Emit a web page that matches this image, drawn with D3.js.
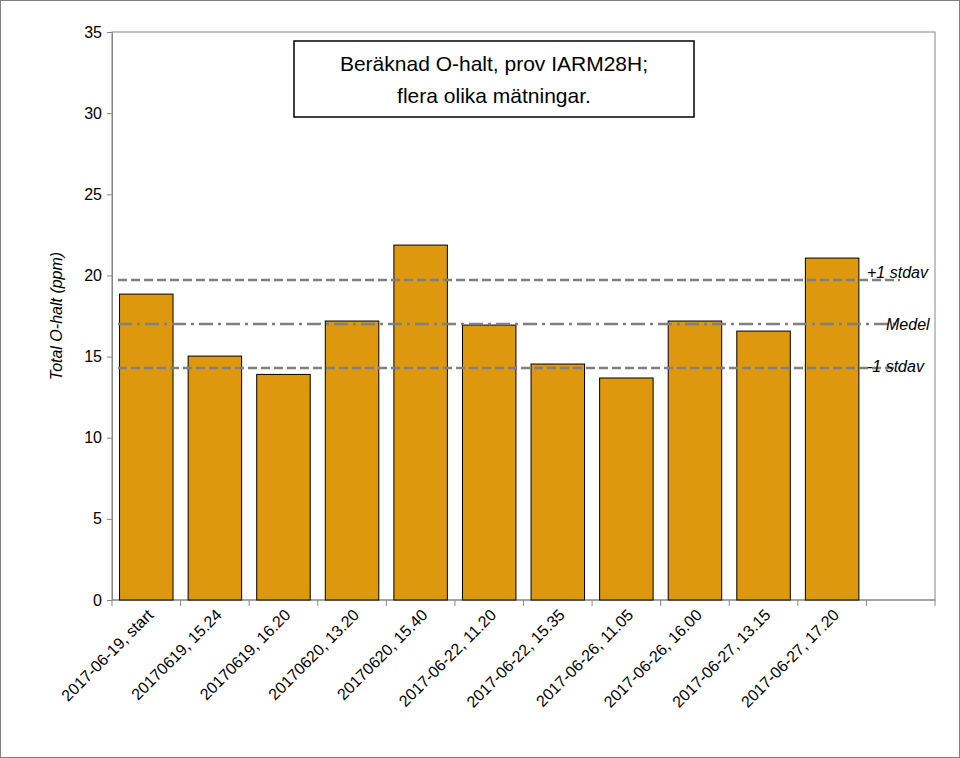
<!DOCTYPE html>
<html><head><meta charset="utf-8">
<script src="https://cdn.jsdelivr.net/npm/d3@7"></script>
<style>body{margin:0;background:#fff}text{font-family:Arial,"Liberation Sans",sans-serif}</style>
</head><body><svg id="chart" width="960" height="758"></svg>
<script>
// categories and measured values (ppm)
const categories = ['2017-06-19, start','20170619, 15.24','20170619, 16.20','20170620, 13.20','20170620, 15.40',
  '2017-06-22, 11.20','2017-06-22, 15.35','2017-06-26, 11.05','2017-06-26, 16.00','2017-06-27, 13.15','2017-06-27, 17.20',''];
const values = [18.85, 15.03, 13.9, 17.19, 21.87, 16.94, 14.54, 13.68, 17.19, 16.57, 21.07];
const refLabels = ['+1 stdav', 'Medel', '-1 stdav'];
const refValues = [19.72, 17.0, 14.3];
const yTicks = [0, 5, 10, 15, 20, 25, 30, 35];

const svg = d3.select('#chart');
svg.append('rect').attr('x', 0.5).attr('y', 0.5).attr('width', 959).attr('height', 757)
  .attr('fill', '#fff').attr('stroke', '#808080').attr('stroke-width', 1);

const m = {left: 112, right: 935, top: 32, bottom: 600};
const x = d3.scaleBand().domain(categories.map((c, i) => i)).range([m.left, m.right]).paddingInner(0.22).paddingOuter(0.11);
const y = d3.scaleLinear().domain([0, 35]).range([m.bottom, m.top]);

svg.append('rect').attr('x', m.left).attr('y', m.top).attr('width', m.right - m.left).attr('height', m.bottom - m.top)
  .attr('fill', 'none').attr('stroke', '#868686');

// y axis
const yAxis = svg.append('g').attr('transform', `translate(${m.left},0)`)
  .call(d3.axisLeft(y).tickValues(yTicks).tickSize(5).tickSizeOuter(0));
yAxis.select('.domain').attr('stroke', '#868686');
yAxis.selectAll('line').attr('stroke', '#868686');
yAxis.selectAll('text').attr('font-size', 16).attr('fill', '#000').attr('dx', -2);

// x axis with ticks between categories
const step = (m.right - m.left) / categories.length;
const xAxis = svg.append('g').attr('transform', `translate(0,${m.bottom})`);
xAxis.append('line').attr('x1', m.left).attr('x2', m.right).attr('stroke', '#868686');
d3.range(categories.length + 1).forEach(i => {
  xAxis.append('line').attr('x1', m.left + i * step).attr('x2', m.left + i * step).attr('y2', 6).attr('stroke', '#868686');
});
categories.forEach((c, i) => {
  const cx = x(i) + x.bandwidth() / 2;
  xAxis.append('text').text(c).attr('font-size', 16)
    .attr('text-anchor', 'end')
    .attr('transform', `translate(${cx + 8},${16}) rotate(-45)`);
});

// bars
svg.append('g').selectAll('rect').data(values).enter().append('rect')
  .attr('x', (d, i) => x(i)).attr('y', d => y(d))
  .attr('width', x.bandwidth()).attr('height', d => y(0) - y(d))
  .attr('fill', '#DD980E').attr('stroke', '#000').attr('stroke-width', 1);

// reference lines
const dashes = ['9,4', '14,5,3,5', '9,4'];
refValues.forEach((v, i) => {
  svg.append('line').attr('x1', 118).attr('x2', 900).attr('y1', y(v)).attr('y2', y(v))
    .attr('stroke', '#808080').attr('stroke-width', 2.5).attr('stroke-dasharray', dashes[i]);
});
svg.append('text').text(refLabels[0]).attr('x', 867).attr('y', y(refValues[0]) - 2).attr('font-size', 16).attr('font-style', 'italic');
svg.append('text').text(refLabels[1]).attr('x', 886).attr('y', y(refValues[1]) + 6).attr('font-size', 16).attr('font-style', 'italic');
svg.append('text').text(refLabels[2]).attr('x', 867).attr('y', y(refValues[2]) + 4).attr('font-size', 16).attr('font-style', 'italic');

// y axis title
svg.append('text').text('Total O-halt (ppm)').attr('font-size', 16).attr('font-style', 'italic')
  .attr('text-anchor', 'middle').attr('transform', `translate(62,${(m.top + m.bottom) / 2}) rotate(-90)`);

// title box
svg.append('rect').attr('x', 294).attr('y', 41).attr('width', 400).attr('height', 76)
  .attr('fill', '#fff').attr('stroke', '#000').attr('stroke-width', 1.5);
svg.append('text').text('Beräknad O-halt, prov IARM28H;').attr('x', 494).attr('y', 71)
  .attr('font-size', 21).attr('text-anchor', 'middle');
svg.append('text').text('flera olika mätningar.').attr('x', 494).attr('y', 103)
  .attr('font-size', 21).attr('text-anchor', 'middle');
</script></body></html>
